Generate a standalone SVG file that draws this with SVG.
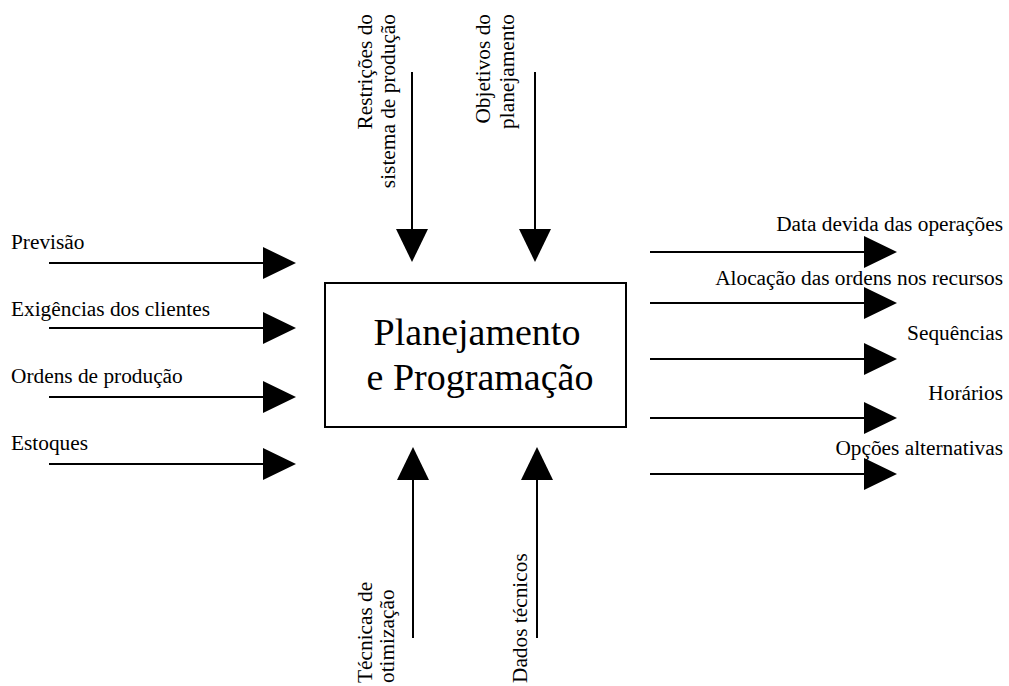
<svg xmlns="http://www.w3.org/2000/svg" width="1009" height="686" viewBox="0 0 1009 686" font-family="'Liberation Serif', 'DejaVu Serif', serif">
  <defs>
    <style>
      .lbl { font-family: 'Liberation Serif', 'DejaVu Serif', serif; font-size: 21.33px; fill: #000; }
      .title { font-family: 'Liberation Serif', 'DejaVu Serif', serif; font-size: 38px; fill: #000; text-anchor: middle; }
      .wire { stroke: #000; stroke-width: 2; fill: none; }
      .head { fill: #000; stroke: none; }
      .box { fill: #fff; stroke: #000; stroke-width: 2; }
    </style>
    <!-- solid triangular head pointing along +x, tip at origin -->
    <polygon id="tri" class="head" points="0,0 -33,-16 -33,16"/>
  </defs>
  <rect width="1009" height="686" fill="#fff"/>

  <!-- central process block -->
  <g id="node-process">
    <rect class="box" x="325" y="283" width="301" height="144"/>
    <text class="title" x="477" y="345">Planejamento</text>
    <text class="title" x="480" y="390">e Programação</text>
  </g>

  <!-- connectors -->
  <g id="connectors">
    <!-- inputs from the left -->
    <line class="wire" x1="49" y1="263" x2="266" y2="263"/>
    <use href="#tri" transform="translate(296,263)"/>
    <line class="wire" x1="49" y1="328" x2="266" y2="328"/>
    <use href="#tri" transform="translate(296,328)"/>
    <line class="wire" x1="49" y1="397" x2="266" y2="397"/>
    <use href="#tri" transform="translate(296,397)"/>
    <line class="wire" x1="49" y1="464" x2="266" y2="464"/>
    <use href="#tri" transform="translate(296,464)"/>

    <!-- controls from the top -->
    <line class="wire" x1="412" y1="72" x2="412" y2="232"/>
    <use href="#tri" transform="translate(412,262) rotate(90)"/>
    <line class="wire" x1="535" y1="72" x2="535" y2="232"/>
    <use href="#tri" transform="translate(535,262) rotate(90)"/>

    <!-- mechanisms from the bottom -->
    <line class="wire" x1="413" y1="638" x2="413" y2="478"/>
    <use href="#tri" transform="translate(413,447) rotate(-90)"/>
    <line class="wire" x1="537" y1="638" x2="537" y2="478"/>
    <use href="#tri" transform="translate(537,447) rotate(-90)"/>

    <!-- outputs to the right -->
    <line class="wire" x1="650" y1="252" x2="866" y2="252"/>
    <use href="#tri" transform="translate(897,252)"/>
    <line class="wire" x1="650" y1="303" x2="866" y2="303"/>
    <use href="#tri" transform="translate(897,303)"/>
    <line class="wire" x1="650" y1="359" x2="866" y2="359"/>
    <use href="#tri" transform="translate(897,359)"/>
    <line class="wire" x1="650" y1="418" x2="866" y2="418"/>
    <use href="#tri" transform="translate(897,418)"/>
    <line class="wire" x1="650" y1="474" x2="866" y2="474"/>
    <use href="#tri" transform="translate(897,474)"/>
  </g>

  <!-- input labels -->
  <g id="in-previsao"><text class="lbl" x="11" y="249">Previsão</text></g>
  <g id="in-exigencias"><text class="lbl" x="11" y="316">Exigências dos clientes</text></g>
  <g id="in-ordens"><text class="lbl" x="11" y="383">Ordens de produção</text></g>
  <g id="in-estoques"><text class="lbl" x="11" y="450">Estoques</text></g>

  <!-- control labels (vertical) -->
  <g id="ctl-restricoes" class="lbl" text-anchor="end">
    <text transform="translate(372,14) rotate(-90)">Restrições do</text>
    <text transform="translate(395,14) rotate(-90)">sistema de produção</text>
  </g>
  <g id="ctl-objetivos" class="lbl" text-anchor="end">
    <text transform="translate(490,14) rotate(-90)">Objetivos do</text>
    <text transform="translate(514,14) rotate(-90)">planejamento</text>
  </g>

  <!-- mechanism labels (vertical) -->
  <g id="mec-tecnicas" class="lbl">
    <text transform="translate(372,683) rotate(-90)">Técnicas de</text>
    <text transform="translate(394,683) rotate(-90)">otimização</text>
  </g>
  <g id="mec-dados" class="lbl">
    <text transform="translate(527,683) rotate(-90)">Dados técnicos</text>
  </g>

  <!-- output labels -->
  <g id="out-data"><text class="lbl" x="1003" y="231" text-anchor="end">Data devida das operações</text></g>
  <g id="out-alocacao"><text class="lbl" x="1003" y="285" text-anchor="end">Alocação das ordens nos recursos</text></g>
  <g id="out-sequencias"><text class="lbl" x="1003" y="340" text-anchor="end">Sequências</text></g>
  <g id="out-horarios"><text class="lbl" x="1003" y="400" text-anchor="end">Horários</text></g>
  <g id="out-opcoes"><text class="lbl" x="1003" y="455" text-anchor="end">Opções alternativas</text></g>
</svg>
